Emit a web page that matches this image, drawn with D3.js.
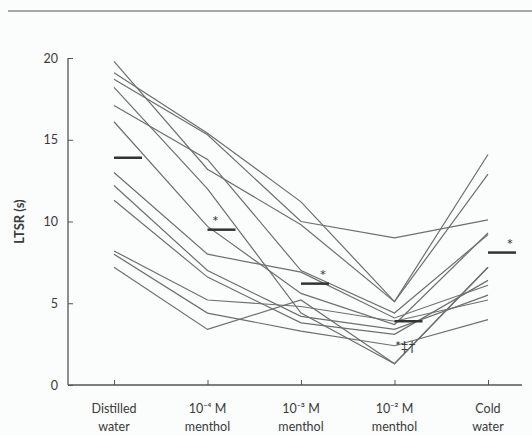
<!DOCTYPE html>
<html>
<head>
<meta charset="utf-8">
<script src="https://cdn.jsdelivr.net/npm/d3@7"></script>
<style>
  body { margin: 0; background: #fbfcfc; }
  svg { display: block; }
  text { font-family: Lato, "Open Sans", sans-serif; fill: #3a3a3a; }
</style>
</head>
<body>
<div id="chart"></div>
<script>
// conditions on the x axis
const categories = ["dw", "m4", "m3", "m2", "cw"]
const labelTop = ["Distilled", "10\u207B\u2074 M", "10\u207B\u00B3 M", "10\u207B\u00B2 M", "Cold"]
const labelBottom = ["water", "menthol", "menthol", "menthol", "water"]

// one row per subject, values in seconds
const subjects = [
    [19.8, 13.2, 9.8, 5.1, 12.9],
    [19.1, 15.4, 11.2, 5.1, 14.1],
    [18.7, 15.3, 10.0, 9.0, 10.1],
    [18.2, 12.0, 4.4, 1.3, 7.2],
    [17.1, 13.8, 7.0, 4.4, 9.2],
    [16.1, 9.7, 5.6, 3.7, 9.3],
    [13.0, 8.0, 6.9, 4.1, 6.1],
    [12.2, 7.0, 4.2, 3.4, 5.5],
    [11.3, 6.6, 3.8, 3.1, 6.4],
    [8.2, 5.2, 4.8, 3.9, 5.2],
    [8.0, 4.4, 3.3, 2.4, 4.0],
    [7.2, 3.4, 5.2, 1.3, 7.2]
]

// group means and significance marks
const means = [13.9, 9.5, 6.2, 3.9, 8.1]
const marks = ["", "*", "*", "*\u2021\u2020", "*"]

const yTicks = [0, 5, 10, 15, 20]

const width = 532
const height = 435

let svg = d3.select("#chart").append("svg")
    .attr("width", width)
    .attr("height", height)

// rule across the top of the page
svg.append("line")
    .attr("x1", 8).attr("x2", width)
    .attr("y1", 11).attr("y2", 11)
    .attr("stroke", "#8a8a8a")
    .attr("stroke-width", 1.5)

let x = d3.scalePoint()
    .domain(categories)
    .range([114, 488])

let y = d3.scaleLinear()
    .domain([0, 20])
    .range([385, 58])

// axes lines
svg.append("line")
    .attr("x1", 68).attr("x2", 68)
    .attr("y1", y(0)).attr("y2", y(20))
    .attr("stroke", "#555").attr("stroke-width", 1.3)
svg.append("line")
    .attr("x1", 68).attr("x2", 522)
    .attr("y1", y(0)).attr("y2", y(0))
    .attr("stroke", "#555").attr("stroke-width", 1.3)

let yAxis = svg.append("g")
    .attr("transform", "translate(68,0)")
    .call(d3.axisLeft(y).tickValues(yTicks).tickSize(-5).tickPadding(10))
yAxis.select(".domain").remove()
yAxis.selectAll("line").attr("stroke", "#555")
yAxis.selectAll("text")
    .style("font-size", "12.5px")
    .style("font-family", "Lato, sans-serif")
    .attr("fill", "#3a3a3a")

let xAxis = svg.append("g")
    .attr("transform", "translate(0," + y(0) + ")")
    .call(d3.axisBottom(x).tickSize(-5).tickFormat(""))
xAxis.select(".domain").remove()
xAxis.selectAll("line").attr("stroke", "#555")

// category labels, two lines each
let labels = svg.append("g")
categories.forEach(function (c, i) {
    labels.append("text")
        .attr("x", x(c))
        .attr("y", 413)
        .attr("text-anchor", "middle")
        .style("font-size", "12.5px")
        .text(labelTop[i])
    labels.append("text")
        .attr("x", x(c))
        .attr("y", 431)
        .attr("text-anchor", "middle")
        .style("font-size", "12.5px")
        .text(labelBottom[i])
})

svg.append("text")
    .attr("transform", "translate(24," + y(10) + ") rotate(-90)")
    .attr("text-anchor", "middle")
    .style("font-size", "13px")
    .style("font-weight", "bold")
    .text("LTSR (s)")

// individual subject lines
let line = d3.line()
    .x(function (d, i) { return x(categories[i]) })
    .y(function (d) { return y(d) })

svg.append("g")
    .selectAll("path")
    .data(subjects)
    .enter()
    .append("path")
    .attr("d", line)
    .attr("fill", "none")
    .attr("stroke", "#6e6e6e")
    .attr("stroke-width", 1.2)

// mean bars
svg.append("g")
    .selectAll("line")
    .data(means)
    .enter()
    .append("line")
    .attr("x1", function (d, i) { return x(categories[i]) })
    .attr("x2", function (d, i) { return x(categories[i]) + 28 })
    .attr("y1", function (d) { return y(d) })
    .attr("y2", function (d) { return y(d) })
    .attr("stroke", "#333")
    .attr("stroke-width", 2.5)

// significance marks
svg.append("g")
    .selectAll("text")
    .data(marks)
    .enter()
    .append("text")
    .attr("x", function (d, i) {
        if (i === 3) return x(categories[i]) + 11
        if (i === 1) return x(categories[i]) + 8
        return x(categories[i]) + 22
    })
    .attr("y", function (d, i) {
        if (i === 3) return y(2.1)
        return y(means[i]) - 3
    })
    .attr("text-anchor", "middle")
    .style("font-size", function (d, i) { return i === 3 ? "13px" : "16px" })
    .attr("fill", "#8a8a8a")
    .text(function (d) { return d })
</script>
</body>
</html>
